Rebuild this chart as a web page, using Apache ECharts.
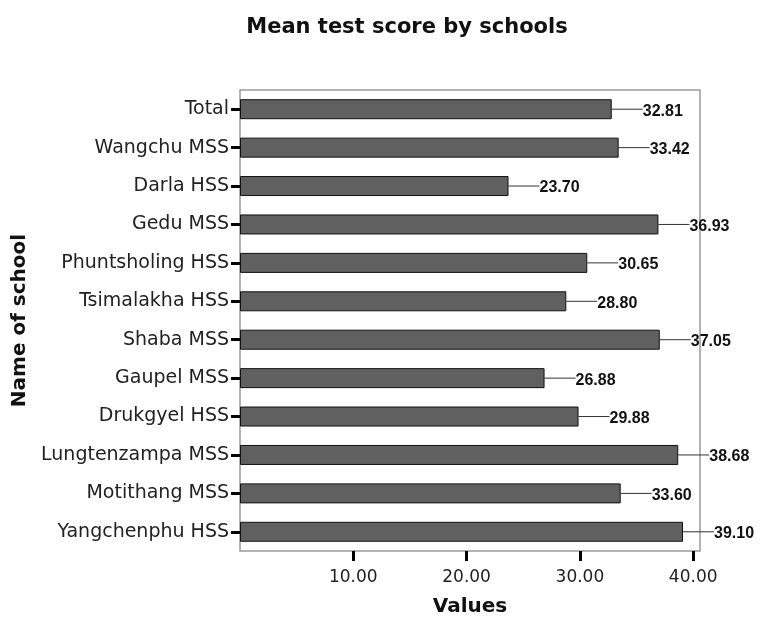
<!DOCTYPE html>
<html>
<head>
<meta charset="utf-8">
<script src="https://cdn.jsdelivr.net/npm/echarts@6/dist/echarts.min.js"></script>
<style>
  html, body { margin: 0; padding: 0; background: #fff; }
  #chart { width: 761px; height: 619px; }
</style>
</head>
<body>
<div id="chart"></div>
<script>
// schools, top to bottom as in the picture
var schools = ['Total', 'Wangchu MSS', 'Darla HSS', 'Gedu MSS', 'Phuntsholing HSS', 'Tsimalakha HSS',
    'Shaba MSS', 'Gaupel MSS', 'Drukgyel HSS', 'Lungtenzampa MSS', 'Motithang MSS', 'Yangchenphu HSS'];
// mean scores
var scores = [32.81, 33.42, 23.70, 36.93, 30.65, 28.80, 37.05, 26.88, 29.88, 38.68, 33.60, 39.10];
// x axis ticks
var xTicks = [10, 20, 30, 40];

// points for the label series: [value, row]
var labelData = [];
scores.forEach(function (v, i) {
    labelData.push([v, i]);
});

var option = {
    backgroundColor: '#fff',
    animation: false,
    title: {
        text: 'Mean test score by schools',
        left: 402,
        textAlign: 'center',
        top: 12,
        textStyle: {
            fontFamily: 'DejaVu Sans',
            fontWeight: 'bold',
            fontSize: 21,
            color: '#111'
        }
    },
    grid: {
        left: 240,
        top: 90,
        width: 460,
        height: 461,
        outerBoundsMode: 'none',
        containLabel: false,
        show: true,
        borderColor: '#9a9a9a',
        borderWidth: 1.5,
        backgroundColor: '#fff'
    },
    xAxis: {
        type: 'value',
        min: 0,
        max: 40.6,
        name: 'Values',
        nameLocation: 'middle',
        nameGap: 46,
        nameTextStyle: {
            fontFamily: 'DejaVu Sans',
            fontWeight: 'bold',
            fontSize: 20,
            color: '#111'
        },
        axisLine: { show: false },
        splitLine: { show: false },
        axisTick: {
            show: true,
            customValues: xTicks,
            length: 10,
            lineStyle: { color: '#000', width: 3 }
        },
        axisLabel: {
            customValues: xTicks,
            margin: 18,
            fontFamily: 'DejaVu Sans',
            fontSize: 17,
            color: '#222',
            formatter: function (v) { return v.toFixed(2); }
        }
    },
    yAxis: {
        type: 'category',
        data: schools,
        inverse: true,
        name: 'Name of school',
        nameLocation: 'middle',
        nameGap: 208,
        nameTextStyle: {
            fontFamily: 'DejaVu Sans',
            fontWeight: 'bold',
            fontSize: 20,
            color: '#111'
        },
        axisLine: { show: false },
        axisTick: {
            show: true,
            alignWithLabel: true,
            length: 9,
            lineStyle: { color: '#000', width: 3 }
        },
        axisLabel: {
            margin: 11,
            fontFamily: 'DejaVu Sans',
            fontSize: 19,
            color: '#222'
        }
    },
    series: [{
        type: 'bar',
        data: scores,
        barWidth: 20,
        itemStyle: {
            color: '#606060',
            borderColor: '#111',
            borderWidth: 1
        }
    }, {
        // leader line + value text
        type: 'custom',
        clip: false,
        data: labelData,
        encode: { x: 0, y: 1 },
        renderItem: function (params, api) {
            var end = api.coord([api.value(0), api.value(1)]);
            return {
                type: 'group',
                children: [{
                    type: 'line',
                    shape: { x1: end[0], y1: end[1], x2: end[0] + 31, y2: end[1] },
                    style: { stroke: '#333', lineWidth: 1 }
                }, {
                    type: 'text',
                    x: end[0] + 31,
                    y: end[1] + 2,
                    style: {
                        text: scores[params.dataIndex].toFixed(2),
                        font: 'bold 16px "Liberation Sans", Arial, sans-serif',
                        fill: '#111',
                        align: 'left',
                        verticalAlign: 'middle'
                    }
                }]
            };
        }
    }]
};

var myChart = echarts.init(document.getElementById('chart'));
myChart.setOption(option);
</script>
</body>
</html>
